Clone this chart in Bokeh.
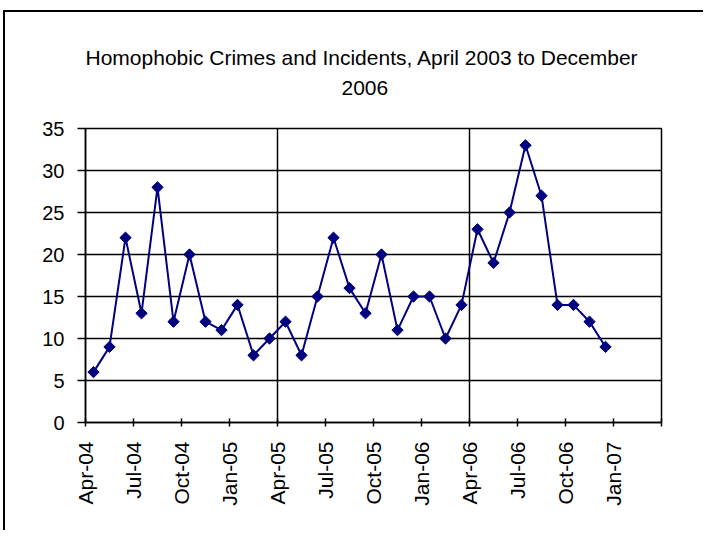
from bokeh.plotting import figure
from bokeh.models import FixedTicker, Title, Range1d
from bokeh.embed import file_html
from bokeh.resources import INLINE

# ---- data (monthly counts, Apr 2004 .. Dec 2006) ----
months = ["Apr-04", "May-04", "Jun-04", "Jul-04", "Aug-04", "Sep-04", "Oct-04", "Nov-04",
          "Dec-04", "Jan-05", "Feb-05", "Mar-05", "Apr-05", "May-05", "Jun-05", "Jul-05",
          "Aug-05", "Sep-05", "Oct-05", "Nov-05", "Dec-05", "Jan-06", "Feb-06", "Mar-06",
          "Apr-06", "May-06", "Jun-06", "Jul-06", "Aug-06", "Sep-06", "Oct-06", "Nov-06",
          "Dec-06"]
counts = [6, 9, 22, 13, 28, 12, 20, 12, 11, 14, 8, 10,
          12, 8, 15, 22, 16, 13, 20, 11, 15, 15, 10, 14,
          23, 19, 25, 33, 27, 14, 14, 12, 9]
tick_labels = ["Apr-04", "Jul-04", "Oct-04", "Jan-05", "Apr-05", "Jul-05", "Oct-05",
               "Jan-06", "Apr-06", "Jul-06", "Oct-06", "Jan-07", ""]
y_ticks = [0, 5, 10, 15, 20, 25, 30, 35]
title_lines = ["Homophobic Crimes and Incidents, April 2003 to December", "2006"]

# month index (months since Apr-04); each point sits in the middle of its month
x_pos = [i + 0.5 for i in range(len(months))]
tick_pos = [3 * i for i in range(len(tick_labels))]

FONT = "Liberation Sans"

p = figure(width=700, height=520, output_backend="svg", toolbar_location=None,
           x_range=Range1d(0, 36), y_range=Range1d(0, 35),
           min_border_left=80, min_border_right=44, min_border_top=116, min_border_bottom=110)

p.title.text = ""
# spacer between the plot frame and the two title lines
spacer = Title(text=" ", text_font=FONT, text_font_size="21px", standoff=9)
t2 = Title(text=title_lines[1], align="left", offset=256, text_font=FONT,
           text_font_size="21px", text_font_style="normal", text_color="black",
           standoff=0)
t1 = Title(text=title_lines[0], align="left", offset=0, text_font=FONT,
           text_font_size="21px", text_font_style="normal", text_color="black",
           standoff=20)
p.add_layout(spacer, "above")
p.add_layout(t2, "above")
p.add_layout(t1, "above")

p.background_fill_color = "white"
p.border_fill_color = "white"
p.outline_line_color = "black"
p.outline_line_width = 1.5

# axes
p.xaxis.ticker = FixedTicker(ticks=tick_pos)
p.xaxis.major_label_overrides = {pos: lab for pos, lab in zip(tick_pos, tick_labels)}
p.xaxis.major_label_orientation = 1.5707963
p.xaxis.major_tick_out = 4
p.xaxis.major_tick_in = 4
p.xaxis.minor_tick_line_color = None
p.xaxis.major_label_standoff = 15
p.xaxis.major_label_text_font_size = "21px"

p.yaxis.ticker = FixedTicker(ticks=y_ticks)
p.yaxis.major_tick_out = 8
p.yaxis.major_tick_in = 0
p.yaxis.minor_tick_line_color = None
p.yaxis.major_label_standoff = 13
p.yaxis.major_label_text_font_size = "20px"

for ax in (p.xaxis, p.yaxis):
    ax.axis_line_color = "black"
    ax.axis_line_width = 1.5
    ax.major_tick_line_color = "black"
    ax.major_tick_line_width = 1.5
    ax.major_label_text_font = FONT
    ax.major_label_text_color = "black"

# grids
p.ygrid.ticker = FixedTicker(ticks=y_ticks)
p.ygrid.grid_line_color = "black"
p.ygrid.grid_line_width = 1.5
p.xgrid.ticker = FixedTicker(ticks=[12, 24])
p.xgrid.grid_line_color = "black"
p.xgrid.grid_line_width = 1.5

# series
p.line(x_pos, counts, line_color="#000080", line_width=2)
p.scatter(x_pos, counts, marker="square", angle=0.7853982, size=8,
          fill_color="#000080", line_color="#000080")

p.styles = {"margin-left": "3px", "margin-top": "10px",
            "border-top": "2px solid black", "border-left": "2px solid black"}

open("out.html", "w").write(file_html(p, INLINE))
